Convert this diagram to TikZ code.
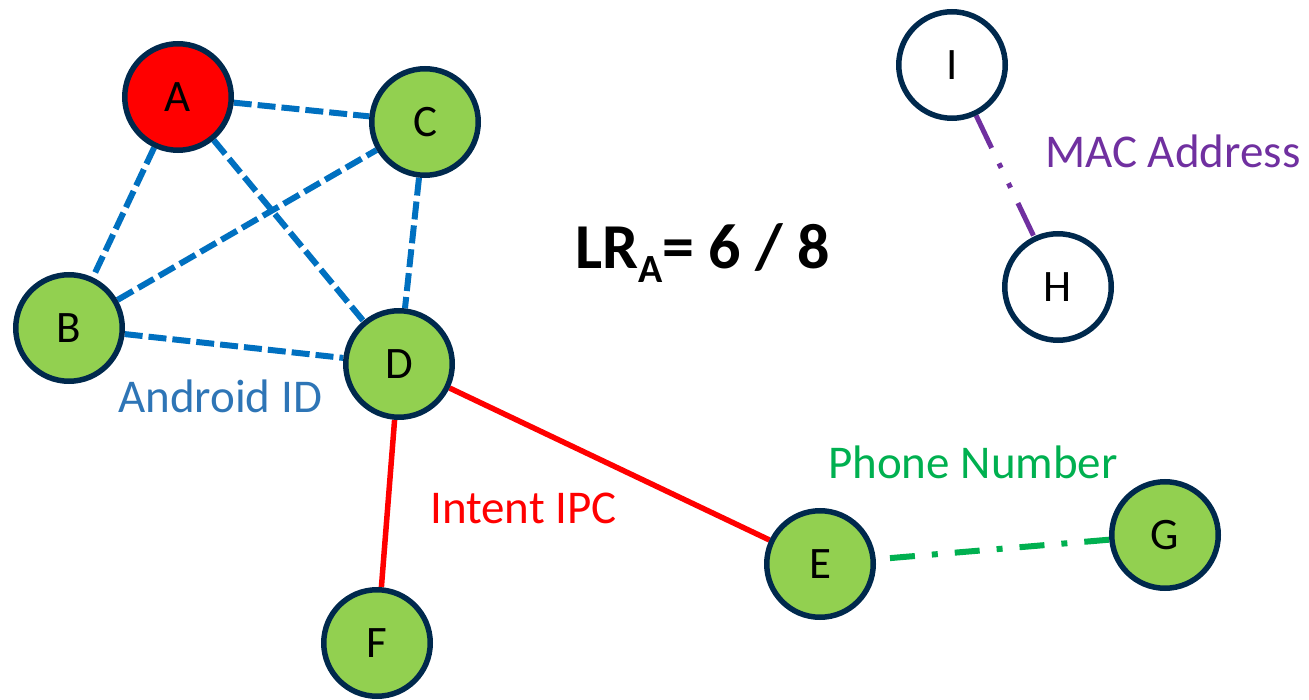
\documentclass[tikz,border=0pt]{standalone}
\usepackage{fontspec}
\setmainfont{Carlito}
\pgfdeclarelayer{bg}
\pgfsetlayers{bg,main}
\definecolor{nodeborder}{RGB}{0,41,77}
\definecolor{leaf}{RGB}{146,208,80}
\definecolor{idblue}{RGB}{0,112,192}
\definecolor{idtext}{RGB}{46,117,182}
\definecolor{phonegreen}{RGB}{0,176,80}
\definecolor{macpurple}{RGB}{112,48,160}
\definecolor{ipcred}{RGB}{255,0,0}
\begin{document}
\begin{tikzpicture}[x=1pt,y=-1pt,
  device/.style={circle, draw=nodeborder, line width=5.5pt, minimum size=106.5pt,
                 inner sep=0pt, font=\fontsize{45}{54}\selectfont},
  app/.style={device, fill=leaf},
  target/.style={device, fill=ipcred},
  lone/.style={device, fill=white},
  androidid/.style={draw=idblue, line width=6pt, dash pattern=on 18pt off 6pt},
  ipc/.style={draw=ipcred, line width=5.5pt},
  phone/.style={draw=phonegreen, line width=6pt,
                dash pattern=on 25pt off 17pt on 6pt off 17pt},
  mac/.style={draw=macpurple, line width=5pt,
              dash pattern=on 36pt off 17pt on 5pt off 17pt on 5pt off 17pt},
  tag/.style={anchor=base west, inner sep=0pt, font=\fontsize{47}{56}\selectfont}
]
\useasboundingbox (0,0) rectangle (1309,700);

% devices
\node[target] (A) at (178,97)  {A};
\node[app]    (C) at (425,122) {C};
\node[app]    (B) at (69,328)  {B};
\node[app]    (D) at (399,364) {D};
\node[app]    (F) at (377,643) {F};
\node[app]    (E) at (820,564) {E};
\node[app]    (G) at (1165,535) {G};
\node[lone]   (I) at (952,65)  {I};
\node[lone]   (H) at (1058,287) {H};

% links
\begin{pgfonlayer}{bg}
  \draw[androidid] (A) -- (C);
  \draw[androidid] (A) -- (B);
  \draw[androidid] (A) -- (D);
  \draw[androidid] (B) -- (C);
  \draw[androidid] (B) -- (D);
  \draw[androidid] (C) -- (D);
  \draw[ipc] (D) -- (F);
  \draw[ipc] (D) -- (E);
  \draw[phone] (G) -- (E);
  \draw[mac] (I) -- (H);
\end{pgfonlayer}

% link labels
\node[tag, text=idtext]     (lid)    at (118,412)  {Android ID};
\node[tag, text=ipcred]     (lipc)   at (430,523)  {Intent IPC};
\node[tag, text=phonegreen] (lphone) at (828,478)  {Phone Number};
\node[tag, text=macpurple]  (lmac)   at (1045,168) {MAC Address};

% ratio
\node[anchor=base west, inner sep=0pt] (ratio) at (575,269)
  {\fontsize{64}{77}\selectfont\bfseries LR\raisebox{-14pt}{\fontsize{40}{48}\selectfont A}= 6 / 8};
\end{tikzpicture}
\end{document}
